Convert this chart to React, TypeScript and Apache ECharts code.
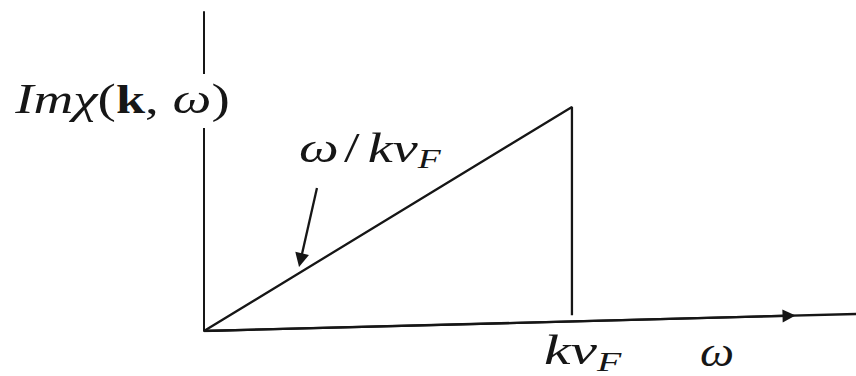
import React, { useEffect, useRef } from "react";
import * as echarts from "echarts";

// Frequency in units of k·v_F, response normalised to its value at ω = k·v_F
const omega = [0, 1, 1];
const imChi = [0, 1, 0.07];

// The ω axis (drawn slightly tilted) and the place of its arrowhead
const omegaAxisX = [0, 1.772];
const omegaAxisY = [0, 0.076];
const omegaArrowAt = [1.59, 0.068];

// Pointer from the slope label to the rising edge
const pointerX = [0.307, 0.2625];
const pointerY = [0.638, 0.316];

const X_MAX = 1.772;
const Y_MAX = 1.424;

const INK = "#161616";
const SERIF = '"Liberation Serif", "DejaVu Serif", serif';

const rich = {
  it: { fontFamily: SERIF, fontStyle: "italic", fontSize: 42, lineHeight: 50, fill: INK, color: INK },
  up: { fontFamily: SERIF, fontSize: 42, lineHeight: 50, fill: INK, color: INK },
  sl: { fontFamily: SERIF, fontSize: 42, lineHeight: 50, padding: [0, 6, 0, 4], fill: INK, color: INK },
  bf: { fontFamily: SERIF, fontWeight: "bold", fontSize: 40, lineHeight: 50, fill: INK, color: INK },
  sub: {
    fontFamily: SERIF,
    fontStyle: "italic",
    fontSize: 28,
    lineHeight: 30,
    verticalAlign: "bottom",
    fill: INK,
    color: INK,
  },
};

export default function App() {
  const ref = useRef<HTMLDivElement>(null);

  useEffect(() => {
    document.body.style.margin = "0";
    if (!ref.current) return;
    const chart = echarts.init(ref.current, null, { renderer: "svg" });

    const lineStyle = { color: INK, width: 2.3 };

    chart.setOption({
      animation: false,
      backgroundColor: "#fff",
      grid: { left: 204, top: 12, right: 0, bottom: 45, containLabel: false },
      xAxis: {
        type: "value",
        min: 0,
        max: X_MAX,
        show: false,
      },
      yAxis: {
        type: "value",
        min: 0,
        max: Y_MAX,
        axisLine: { show: true, lineStyle: { color: INK, width: 2 } },
        axisTick: { show: false },
        axisLabel: { show: false },
        splitLine: { show: false },
      },
      series: [
        {
          type: "line",
          name: "Im χ",
          data: omega.map((w, i) => [w, imChi[i]]),
          showSymbol: false,
          lineStyle,
          z: 3,
        },
        {
          type: "lines",
          coordinateSystem: "cartesian2d",
          symbol: ["none", "none"],
          lineStyle: { ...lineStyle, opacity: 1, curveness: 0 },
          data: [
            {
              coords: [
                [omegaAxisX[0], omegaAxisY[0]],
                [omegaAxisX[1], omegaAxisY[1]],
              ],
            },
          ],
          z: 2,
        },
        {
          type: "lines",
          coordinateSystem: "cartesian2d",
          symbol: ["none", "triangle"],
          symbolSize: [12, 13],
          lineStyle: { ...lineStyle, opacity: 1, curveness: 0 },
          itemStyle: { color: INK },
          data: [
            {
              coords: [
                [omegaAxisX[0], omegaAxisY[0]],
                [omegaArrowAt[0], omegaArrowAt[1]],
              ],
            },
          ],
          z: 2,
        },
        {
          type: "lines",
          coordinateSystem: "cartesian2d",
          symbol: ["none", "triangle"],
          symbolSize: [9, 14],
          lineStyle: { ...lineStyle, opacity: 1, curveness: 0 },
          itemStyle: { color: INK },
          data: [
            {
              coords: [
                [pointerX[0], pointerY[0]],
                [pointerX[1], pointerY[1]],
              ],
            },
          ],
          z: 2,
        },
      ],
      graphic: [
        {
          type: "text",
          x: 14,
          y: 74,
          scaleX: 1.31,
          z: 10,
          style: {
            text: "{it|Imχ}{up|(}{bf|k}{up|, }{it|ω}{up|)}",
            rich,
            backgroundColor: "#fff",
            padding: [0, 1, 4, 1],
          },
        },
        {
          type: "text",
          x: 299,
          y: 123,
          scaleX: 1.34,
          z: 10,
          style: {
            text: "{it|ω}{sl|/}{it|kv}{sub|F}",
            rich,
          },
        },
        {
          type: "text",
          x: 544,
          y: 325,
          scaleX: 1.42,
          z: 10,
          style: {
            text: "{it|kv}{sub|F}",
            rich,
          },
        },
        {
          type: "text",
          x: 700,
          y: 327,
          scaleX: 1.15,
          z: 10,
          style: {
            text: "{it|ω}",
            rich,
          },
        },
      ],
    });

    return () => chart.dispose();
  }, []);

  return <div ref={ref} style={{ width: 856, height: 376 }} />;
}
